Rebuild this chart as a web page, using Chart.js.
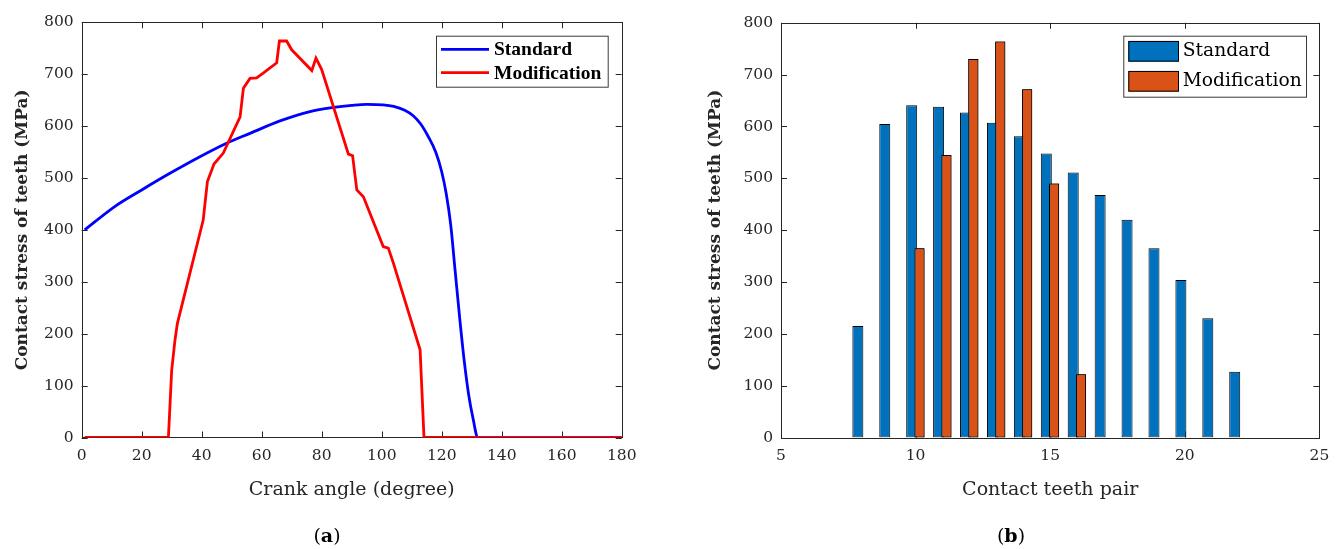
<!DOCTYPE html>
<html>
<head>
<meta charset="utf-8">
<script src="https://cdn.jsdelivr.net/npm/chart.js@4.4.1/dist/chart.umd.min.js"></script>
<style>
  html, body { margin: 0; padding: 0; background: #fff; }
  body { width: 1343px; height: 549px; position: relative; overflow: hidden; }
  .panel { position: absolute; top: 0; }
  .cap { position: absolute; top: 523px; width: 60px; text-align: center;
         font: 19px "DejaVu Serif"; line-height: 24px; color: #000; }
</style>
</head>
<body>
<div class="panel" style="left:0"><canvas id="crank" width="680" height="549"></canvas></div>
<div class="panel" style="left:680px"><canvas id="pairs" width="663" height="549"></canvas></div>
<div class="cap" style="left:297px">(<b>a</b>)</div>
<div class="cap" style="left:981px">(<b>b</b>)</div>
<script>
// (a) contact stress vs crank angle
const stdAngle  = [1, 11, 20, 29.4, 39.4, 48.3, 56.1, 66.1, 76.1, 84, 90, 95, 100.5, 104, 107.5, 110.5, 113, 115.5, 118, 120, 121.5, 123, 124.5, 126, 127.5, 129, 130.5, 132, 180];
const stdStress = [400, 445, 477, 509, 541, 567, 586, 610, 628, 636, 640, 642, 641, 638, 631, 620, 604, 580, 550, 512, 470, 410, 320, 230, 148, 82, 35, 0, 0];

const modAngle  = [1, 28.9, 29.4, 30, 31.1, 31.9, 40.5, 41.9, 44.1, 47.2, 52.8, 53.9, 56.1, 58.3, 60.5, 65, 65.9, 68.3, 70, 76.7, 78.1, 80, 88.9, 90.3, 91.7, 93.9, 100.5, 102.2, 103.9, 112.8, 114.1, 180];
const modStress = [0, 0, 59, 130, 188, 220, 419, 493, 527, 548, 618, 673, 692, 693, 702, 722, 764, 764, 747, 707, 731, 709, 546, 543, 477, 464, 368, 365, 336, 169, 0, 0];

// (b) contact stress per teeth pair
const pairs      = [8, 9, 10, 11, 12, 13, 14, 15, 16, 17, 18, 19, 20, 21, 22];
const stdContact = [215, 605, 641, 638, 627, 607, 581, 548, 511, 468, 420, 365, 304, 230, 127];
const modPairs   = [10, 11, 12, 13, 14, 15, 16];
const modContact = [365, 545, 730, 764, 672, 490, 122];

const seriesNames = ['Standard', 'Modification'];
const yTicks = [0, 100, 200, 300, 400, 500, 600, 700, 800];

const axisColor = '#262626';
const tickFont = { family: 'DejaVu Serif', size: 15.5 };

const toXY = (xs, ys) => xs.map((x, i) => ({ x: x, y: ys[i] }));

// MATLAB style box with inward ticks on all four sides
const frame = {
  id: 'frame',
  beforeDatasetsDraw(chart) {
    const { ctx, chartArea: a, scales: { x, y } } = chart;
    ctx.save();
    ctx.strokeStyle = axisColor;
    ctx.lineWidth = 1;
    ctx.beginPath();
    x.ticks.forEach((t, i) => {
      const px = Math.round(x.getPixelForTick(i)) + 0.5;
      ctx.moveTo(px, a.bottom); ctx.lineTo(px, a.bottom - 6);
      ctx.moveTo(px, a.top); ctx.lineTo(px, a.top + 6);
    });
    y.ticks.forEach((t, i) => {
      const py = Math.round(y.getPixelForTick(i)) + 0.5;
      ctx.moveTo(a.left, py); ctx.lineTo(a.left + 6, py);
      ctx.moveTo(a.right, py); ctx.lineTo(a.right - 6, py);
    });
    ctx.stroke();
    ctx.strokeRect(Math.round(a.left) + 0.5, Math.round(a.top) + 0.5,
                   Math.round(a.right - a.left), Math.round(a.bottom - a.top));
    ctx.restore();
  }
};

// legend in a box inside the plot
const boxLegend = {
  id: 'boxLegend',
  afterDraw(chart, args, o) {
    const ctx = chart.ctx;
    ctx.save();
    ctx.fillStyle = '#fff';
    ctx.fillRect(o.x, o.y, o.w, o.h);
    ctx.strokeStyle = '#3a3a3a';
    ctx.lineWidth = 1;
    ctx.strokeRect(o.x + 0.5, o.y + 0.5, o.w, o.h);
    ctx.font = o.font;
    ctx.textBaseline = 'middle';
    chart.data.datasets.forEach((ds, i) => {
      const cy = o.rows[i];
      if (o.patch) {
        ctx.fillStyle = ds.backgroundColor;
        ctx.fillRect(o.sx, cy - o.ph / 2, o.sw, o.ph);
        ctx.strokeStyle = '#000';
        ctx.strokeRect(o.sx + 0.5, cy - o.ph / 2 + 0.5, o.sw - 1, o.ph - 1);
      } else {
        ctx.strokeStyle = ds.borderColor;
        ctx.lineWidth = ds.borderWidth;
        ctx.beginPath();
        ctx.moveTo(o.sx, cy); ctx.lineTo(o.sx + o.sw, cy);
        ctx.stroke();
      }
      ctx.fillStyle = '#000';
      ctx.fillText(ds.label, o.tx, cy + (o.dy || 0));
    });
    ctx.restore();
  }
};

// draw the orange bars over the blue ones
const modOnTop = {
  id: 'modOnTop',
  afterDatasetsDraw(chart) {
    chart.getDatasetMeta(1).controller.draw();
  }
};

function yAxis(width, titlePad) {
  return {
    min: 0, max: 800,
    afterFit: s => { s.width = width; },
    afterBuildTicks: s => { s.ticks = yTicks.map(v => ({ value: v })); },
    grid: { display: false, drawTicks: false },
    border: { display: false },
    ticks: { font: tickFont, color: axisColor, padding: 8 },
    title: {
      display: true, text: 'Contact stress of teeth (MPa)', color: axisColor,
      font: { family: 'DejaVu Serif', size: 17, weight: 'bold' },
      padding: { top: titlePad, bottom: 0 }
    }
  };
}

function xAxis(min, max, step, text) {
  return {
    type: 'linear', min: min, max: max, offset: false,
    afterFit: s => { s.height = 549 - 437.5; },
    grid: { display: false, drawTicks: false, offset: false },
    border: { display: false },
    ticks: { stepSize: step, font: tickFont, color: axisColor, padding: 9, maxRotation: 0, autoSkip: false },
    title: {
      display: true, text: text, color: axisColor,
      font: { family: 'DejaVu Serif', size: 19 },
      padding: { top: 0, bottom: 47.6 }
    }
  };
}

new Chart(document.getElementById('crank'), {
  type: 'line',
  data: {
    datasets: [{
      label: seriesNames[0],
      data: toXY(stdAngle, stdStress),
      borderColor: '#0000ff',
      borderWidth: 2.8,
      pointRadius: 0,
      cubicInterpolationMode: 'monotone',
      order: 1
    }, {
      label: seriesNames[1],
      data: toXY(modAngle, modStress),
      borderColor: '#ff0000',
      borderWidth: 2.8,
      pointRadius: 0,
      tension: 0,
      order: 0
    }]
  },
  options: {
    responsive: false,
    animation: false,
    layout: { padding: { top: 22.3, right: 680 - 621.7, left: 0, bottom: 0 } },
    scales: {
      x: xAxis(0, 180, 20, 'Crank angle (degree)'),
      y: yAxis(81.7, 12)
    },
    plugins: {
      legend: { display: false },
      tooltip: { enabled: false },
      boxLegend: {
        x: 436, y: 35.7, w: 171.7, h: 51,
        rows: [49.3, 72.7], sx: 441, sw: 48, tx: 494, dy: 1,
        font: 'bold 19.5px "Liberation Serif"'
      }
    }
  },
  plugins: [frame, boxLegend]
});

new Chart(document.getElementById('pairs'), {
  type: 'bar',
  data: {
    datasets: [{
      label: seriesNames[0],
      data: toXY(pairs, stdContact),
      backgroundColor: '#0072bd',
      borderColor: '#000',
      borderWidth: 1,
      borderSkipped: false,
      categoryPercentage: 0.58,
      barPercentage: 1.41
    }, {
      label: seriesNames[1],
      data: toXY(modPairs, modContact),
      backgroundColor: '#d95319',
      borderColor: '#000',
      borderWidth: 1,
      borderSkipped: false,
      categoryPercentage: 0.58,
      barPercentage: 1.3
    }]
  },
  options: {
    responsive: false,
    animation: false,
    layout: { padding: { top: 22.8, right: 663 - 639.4, left: 0, bottom: 0 } },
    scales: {
      x: xAxis(5, 25, 5, 'Contact teeth pair'),
      y: yAxis(101, 25.8)
    },
    plugins: {
      legend: { display: false },
      tooltip: { enabled: false },
      boxLegend: {
        x: 443.3, y: 35.7, w: 182.7, h: 61,
        rows: [51.3, 81.3], sx: 448.3, sw: 50.7, ph: 20.7, tx: 502.7, patch: true,
        font: '18.7px "DejaVu Serif"'
      }
    }
  },
  plugins: [frame, modOnTop, boxLegend]
});
</script>
</body>
</html>
